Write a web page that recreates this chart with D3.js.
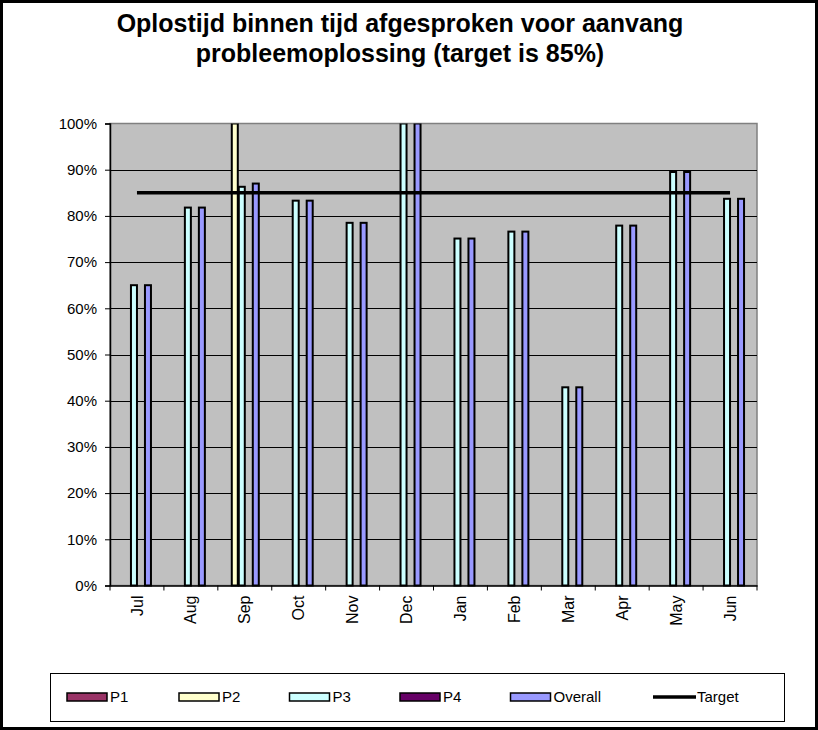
<!DOCTYPE html>
<html>
<head>
<meta charset="utf-8">
<script src="https://cdn.jsdelivr.net/npm/d3@7"></script>
<style>
  body { margin: 0; background: #fff; }
  text { font-family: "Liberation Sans", Arial, sans-serif; }
</style>
</head>
<body>
<script>
// data
const months = ['Jul', 'Aug', 'Sep', 'Oct', 'Nov', 'Dec', 'Jan', 'Feb', 'Mar', 'Apr', 'May', 'Jun']
const seriesNames = ['P1', 'P2', 'P3', 'P4', 'Overall']
const p1 = [null, null, null, null, null, null, null, null, null, null, null, null]
const p2 = [null, null, 1.0, null, null, null, null, null, null, null, null, null]
const p3 = [0.65, 0.818, 0.863, 0.833, 0.785, 1.0, 0.751, 0.766, 0.429, 0.779, 0.895, 0.837]
const p4 = [null, null, null, null, null, null, null, null, null, null, null, null]
const overall = [0.65, 0.818, 0.87, 0.833, 0.785, 1.0, 0.751, 0.766, 0.429, 0.779, 0.895, 0.837]
const target = 0.85
const yTicks = [0, 0.1, 0.2, 0.3, 0.4, 0.5, 0.6, 0.7, 0.8, 0.9, 1.0]
const colors = ['#993366', '#FFFFCC', '#CCFFFF', '#660066', '#9999FF']

const seriesValues = [p1, p2, p3, p4, overall]

const width = 818
const height = 730
const plot = {left: 110, top: 123.5, right: 757, bottom: 585.5}

const svg = d3.select('body').append('svg')
    .attr('width', width)
    .attr('height', height)

// outer frame
svg.append('rect')
    .attr('x', 1.5).attr('y', 1.5)
    .attr('width', width - 3).attr('height', height - 3)
    .attr('fill', '#fff')
    .attr('stroke', '#000')
    .attr('stroke-width', 3)

// title
const title = svg.append('text')
    .attr('text-anchor', 'middle')
    .attr('font-weight', 'bold')
    .attr('font-size', 25)
title.append('tspan').attr('x', 400).attr('y', 32).text('Oplostijd binnen tijd afgesproken voor aanvang')
title.append('tspan').attr('x', 400).attr('y', 62).text('probleemoplossing (target is 85%)')

const x = d3.scaleBand().domain(months).range([plot.left, plot.right])
const groupWidth = 35
const x1 = d3.scaleBand().domain(seriesNames)
    .range([(x.bandwidth() - groupWidth) / 2 - 3, (x.bandwidth() + groupWidth) / 2 - 3])
const y = d3.scaleLinear().domain([0, 1]).range([plot.bottom, plot.top])

// plot background
svg.append('rect')
    .attr('x', plot.left).attr('y', plot.top)
    .attr('width', plot.right - plot.left).attr('height', plot.bottom - plot.top)
    .attr('fill', '#C0C0C0')
    .attr('stroke', '#808080')
    .attr('stroke-width', 1.5)

// gridlines
svg.append('g')
  .selectAll('line')
  .data(yTicks.slice(1, -1))
  .join('line')
    .attr('x1', plot.left).attr('x2', plot.right)
    .attr('y1', (d) => Math.round(y(d)) + 0.5).attr('y2', (d) => Math.round(y(d)) + 0.5)
    .attr('stroke', '#000')
    .attr('stroke-width', 1)

svg.append('clipPath').attr('id', 'plotclip')
  .append('rect')
    .attr('x', plot.left).attr('y', plot.top)
    .attr('width', plot.right - plot.left).attr('height', plot.bottom - plot.top + 2)

// bars
const bars = []
seriesValues.forEach((vals, si) => {
  vals.forEach((v, mi) => {
    if (v != null) bars.push({month: months[mi], series: seriesNames[si], value: v, color: colors[si]})
  })
})

svg.append('g')
    .attr('clip-path', 'url(#plotclip)')
  .selectAll('rect')
  .data(bars)
  .join('rect')
    .attr('x', (d) => x(d.month) + x1(d.series) + 0.5)
    .attr('y', (d) => y(d.value))
    .attr('width', x1.bandwidth() - 1)
    .attr('height', (d) => y(0) - y(d.value))
    .attr('fill', (d) => d.color)
    .attr('stroke', '#000')
    .attr('stroke-width', 2)

// target line
svg.append('line')
    .attr('x1', x(months[0]) + x.bandwidth() / 2)
    .attr('x2', x(months[months.length - 1]) + x.bandwidth() / 2)
    .attr('y1', y(target)).attr('y2', y(target))
    .attr('stroke', '#000')
    .attr('stroke-width', 3.5)

// axes
const yAxis = svg.append('g')
    .attr('transform', `translate(${plot.left}, 0)`)
    .call(d3.axisLeft(y).tickValues(yTicks).tickSize(5).tickPadding(8).tickFormat(d3.format('.0%')))
yAxis.select('.domain').attr('stroke-width', 1.5)
yAxis.selectAll('text').attr('font-size', 15).attr('fill', '#000').attr('font-family', '"Liberation Sans", Arial, sans-serif')

const xAxis = svg.append('g')
    .attr('transform', `translate(0, ${plot.bottom})`)
    .call(d3.axisBottom(x).tickSize(0).tickSizeOuter(0))
xAxis.select('.domain').attr('stroke-width', 1.5)
xAxis.selectAll('text')
    .attr('font-size', 16)
    .attr('fill', '#000')
    .attr('font-family', '"Liberation Sans", Arial, sans-serif')
    .attr('text-anchor', 'end')
    .attr('transform', 'rotate(-90)')
    .attr('x', -10)
    .attr('y', 0)
    .attr('dy', '0.35em')

// category tick marks on band boundaries
svg.append('g')
  .selectAll('line')
  .data(months.concat(['end']))
  .join('line')
    .attr('x1', (d, i) => plot.left + i * x.step())
    .attr('x2', (d, i) => plot.left + i * x.step())
    .attr('y1', plot.bottom).attr('y2', plot.bottom + 5)
    .attr('stroke', '#000')

// legend
const legend = svg.append('g')
legend.append('rect')
    .attr('x', 50.5).attr('y', 673.5)
    .attr('width', 734).attr('height', 48)
    .attr('fill', '#fff')
    .attr('stroke', '#000')

const legendX = [67, 179, 289.5, 400, 510.5, 653]
const legendItems = seriesNames.concat(['Target'])
const li = legend.selectAll('g.item')
  .data(legendItems)
  .join('g')
    .attr('class', 'item')
    .attr('transform', (d, i) => `translate(${legendX[i]}, 697)`)

li.filter((d, i) => i < 5).append('rect')
    .attr('x', 0).attr('y', -4)
    .attr('width', 40).attr('height', 8)
    .attr('fill', (d, i) => colors[i])
    .attr('stroke', '#000')
    .attr('stroke-width', 1.5)

li.filter((d, i) => i === 5).append('line')
    .attr('x1', 0).attr('x2', 43)
    .attr('y1', 0).attr('y2', 0)
    .attr('stroke', '#000')
    .attr('stroke-width', 3.5)

li.append('text')
    .attr('x', (d, i) => i === 5 ? 44 : 43)
    .attr('dy', '0.35em')
    .attr('font-size', 15)
    .text((d) => d)
</script>
</body>
</html>
